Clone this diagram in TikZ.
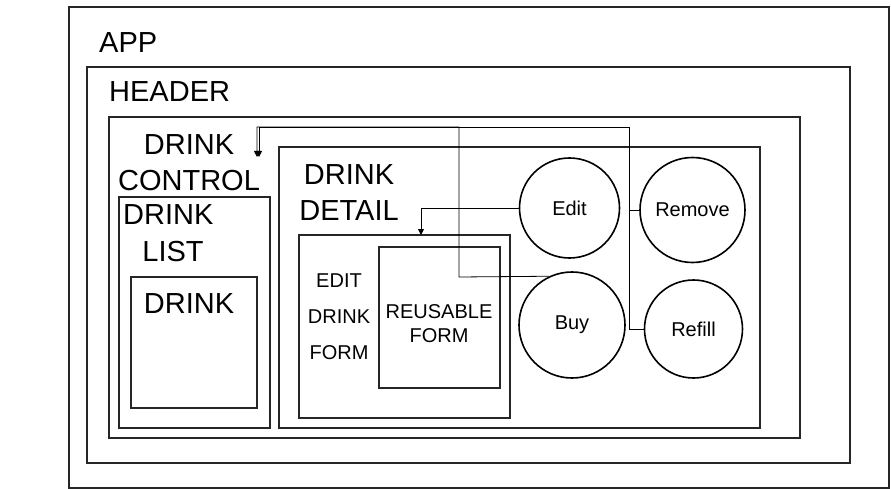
\documentclass[tikz,border=0pt]{standalone}
\usepackage{fontspec}
\setmainfont{Liberation Sans}
\usetikzlibrary{arrows.meta}
\begin{document}
\begin{tikzpicture}[x=1pt,y=-1pt,
  box/.style={draw=black!85,line width=1.8pt,inner sep=0pt,rectangle},
  circ/.style={draw=black,line width=1.6pt,circle,inner sep=0pt,font=\fontsize{20}{24}\selectfont},
  big/.style={inner sep=0pt,anchor=base,font=\fontsize{29}{34}\selectfont},
  small/.style={inner sep=0pt,anchor=base,font=\fontsize{20}{24}\selectfont},
  conn/.style={draw=black,line width=0.8pt},
  tip/.style={-{Triangle[length=6pt,width=6pt]}}]
\useasboundingbox (0,0) rectangle (891,489);
% boxes
\node[box,minimum width=820pt,minimum height=481pt] (app) at (479,247.5) {};
\node[box,minimum width=763pt,minimum height=396pt] (header) at (468.5,265) {};
\node[box,minimum width=691pt,minimum height=321pt] (control) at (454.5,277.5) {};
\node[box,minimum width=151pt,minimum height=231pt] (list) at (194.5,312.5) {};
\node[box,minimum width=126pt,minimum height=131pt] (drink) at (194,342.5) {};
\node[box,minimum width=481pt,minimum height=281pt] (detail) at (519.5,287.5) {};
\node[box,minimum width=211pt,minimum height=183pt] (edf) at (404.5,326.5) {};
\node[box,minimum width=121pt,minimum height=141pt] (reuse) at (439.5,317.5) {};
% circles
\node[circ,minimum size=100pt] (edit) at (569.5,208) {Edit};
\node[circ,minimum size=105pt] (remove) at (692.5,210) {Remove};
\node[circ,minimum size=106pt] (buy) at (572,325) {Buy};
\node[circ,minimum size=98pt] (refill) at (693.5,329) {Refill};
% labels
\node[big,anchor=base west] (tapp) at (99,53) {APP};
\node[big,anchor=base west] (theader) at (109,102) {HEADER};
\node[big] (tc1) at (189,155) {DRINK};
\node[big] (tc2) at (189,190) {CONTROL};
\node[big,anchor=base west] (tl1) at (123,225) {DRINK};
\node[big] (tl2) at (173,261) {LIST};
\node[big] (td) at (189,313) {DRINK};
\node[big] (tdd1) at (349,185) {DRINK};
\node[big] (tdd2) at (349,220) {DETAIL};
\node[small] (te1) at (339,287) {EDIT};
\node[small] (te2) at (339,323) {DRINK};
\node[small] (te3) at (339,359) {FORM};
\node[small] (tr1) at (439,318) {REUSABLE};
\node[small] (tr2) at (439,342) {FORM};
% connectors
\coordinate (t1) at (257,157);
\coordinate (t2) at (259,157);
\coordinate (ed) at (421,235);
\draw[conn,tip] (buy.115) -- (459,277) -- (459,127) -- (257,127) -- (t1);
\draw[conn,tip] (remove.west) -- (629,210) -- (629,127) -- (259,127) -- (t2);
\draw[conn] (refill.west) -- (629,329) -- (629,210);
\draw[conn,tip] (edit.west) -- (421,208) -- (ed);
\end{tikzpicture}
\end{document}
